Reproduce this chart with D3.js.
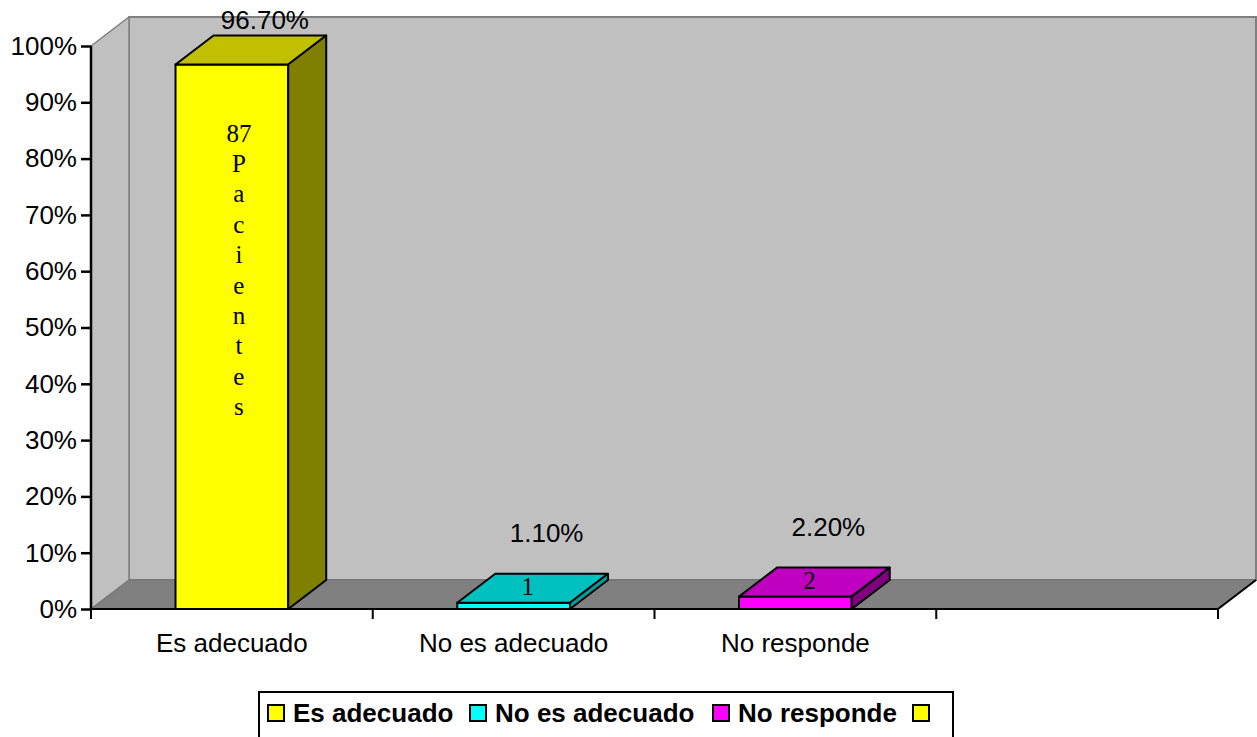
<!DOCTYPE html>
<html>
<head>
<meta charset="utf-8">
<script src="https://cdn.jsdelivr.net/npm/d3@7"></script>
<style>
  html, body { margin: 0; padding: 0; background: #ffffff; }
  svg { display: block; }
</style>
</head>
<body>
<svg id="chart" width="1257" height="737"></svg>
<script>
// Categories, shares and patient counts
const categories = ["Es adecuado", "No es adecuado", "No responde", ""];
const shares = [0.967, 0.011, 0.022, null];
const counts = ["87 Pacientes", "1", "2", null];
const legendLabels = ["Es adecuado", "No es adecuado", "No responde", ""];
const yTicks = [0, 0.1, 0.2, 0.3, 0.4, 0.5, 0.6, 0.7, 0.8, 0.9, 1.0];

// Face colours per series: front, top, side
const palette = [
  { front: "#ffff00", top: "#c0c000", side: "#808000" },
  { front: "#00ffff", top: "#00c0c0", side: "#00a0a0" },
  { front: "#ff00ff", top: "#c000c0", side: "#800080" },
  { front: "#ffff00", top: "#c0c000", side: "#808000" }
];

(function () {
const svg = d3.select("#chart");
const W = 1257, H = 737;
svg.append("rect").attr("width", W).attr("height", H).attr("fill", "#ffffff");

// Plot frame and 3D depth offset
const pLeft = 91, pRight = 1218, pTop = 46, pBottom = 609;
const dx = 38, dy = 29;

const x = d3.scaleBand().domain(categories).range([pLeft, pRight])
  .paddingInner(0.6).paddingOuter(0.3);
const y = d3.scaleLinear().domain([0, 1]).range([pBottom, pTop]);

const sans = "'Liberation Sans', Arial, sans-serif";
const serif = "'Liberation Serif', 'Times New Roman', serif";
const fs = 26;

// Back wall
svg.append("rect")
  .attr("x", pLeft + dx).attr("y", pTop - dy)
  .attr("width", pRight - pLeft).attr("height", pBottom - pTop)
  .attr("fill", "#c0c0c0").attr("stroke", "#808080").attr("stroke-width", 2);

// Side wall
svg.append("polygon")
  .attr("points", [[pLeft, pTop], [pLeft + dx, pTop - dy], [pLeft + dx, pBottom - dy], [pLeft, pBottom]].join(" "))
  .attr("fill", "#c0c0c0").attr("stroke", "#808080").attr("stroke-width", 1.5);

// Floor
svg.append("polygon")
  .attr("points", [[pLeft, pBottom], [pLeft + dx, pBottom - dy], [pRight + dx, pBottom - dy], [pRight, pBottom]].join(" "))
  .attr("fill", "#808080").attr("stroke", "#707070").attr("stroke-width", 1);

// Floor front edges
svg.append("polyline")
  .attr("points", [[pLeft, pBottom], [pRight, pBottom], [pRight + dx, pBottom - dy]].join(" "))
  .attr("fill", "none").attr("stroke", "#000").attr("stroke-width", 2);

// Bars
const barData = categories.map((c, i) => ({ c, v: shares[i], n: counts[i], col: palette[i] }))
  .filter(d => d.v != null);

const bw = x.bandwidth();
const bars = svg.append("g").selectAll("g").data(barData).join("g");

bars.append("rect")
  .attr("x", d => x(d.c)).attr("y", d => y(d.v))
  .attr("width", bw).attr("height", d => y(0) - y(d.v))
  .attr("fill", d => d.col.front).attr("stroke", "#000").attr("stroke-width", 2);

bars.append("polygon")
  .attr("points", d => {
    const x0 = x(d.c), t = y(d.v);
    return [[x0, t], [x0 + dx, t - dy], [x0 + bw + dx, t - dy], [x0 + bw, t]].join(" ");
  })
  .attr("fill", d => d.col.top).attr("stroke", "#000").attr("stroke-width", 2)
  .attr("stroke-linejoin", "round");

bars.append("polygon")
  .attr("points", d => {
    const x1 = x(d.c) + bw, t = y(d.v);
    return [[x1, t], [x1 + dx, t - dy], [x1 + dx, y(0) - dy], [x1, y(0)]].join(" ");
  })
  .attr("fill", d => d.col.side).attr("stroke", "#000").attr("stroke-width", 2)
  .attr("stroke-linejoin", "round");

// Percentage labels above bars
const pct = d3.format(".2%");
svg.append("g").selectAll("text").data(barData).join("text")
  .attr("x", d => x(d.c) + bw / 2 + 33)
  .attr("y", d => Math.max(y(d.v) - dy - 32, 29))
  .attr("text-anchor", "middle")
  .attr("font-family", sans).attr("font-size", fs).attr("fill", "#000")
  .text(d => pct(d.v));

// Count labels on bars
bars.each(function (d) {
  const g = d3.select(this);
  const words = d.n.split(" ");
  if (words.length > 1) {
    // tall bar: number then the word stacked letter by letter
    const lines = [words[0]].concat(words[1].split(""));
    const t = g.append("text")
      .attr("font-family", serif).attr("font-size", 25).attr("fill", "#000")
      .attr("text-anchor", "middle");
    lines.forEach((s, k) => {
      t.append("tspan")
        .attr("x", x(d.c) + bw / 2 + 7)
        .attr("y", y(d.v) + 77 + k * 30.4)
        .text(s);
    });
  } else {
    g.append("text")
      .attr("x", x(d.c) + bw / 2 + dx / 2 - 5)
      .attr("y", y(d.v) - dy / 2 + 7)
      .attr("text-anchor", "middle")
      .attr("font-family", serif).attr("font-size", 25).attr("fill", "#000")
      .text(d.n);
  }
});

// Y axis
const yAxis = svg.append("g").attr("transform", `translate(${pLeft},0)`)
  .call(d3.axisLeft(y).tickValues(yTicks).tickFormat(d3.format(".0%")).tickSize(10).tickPadding(4));
yAxis.select(".domain").attr("stroke", "#000").attr("stroke-width", 2.5)
  .attr("d", `M0,${pTop}V${pBottom}`);
yAxis.selectAll(".tick line").attr("stroke", "#000").attr("stroke-width", 2.5);
yAxis.selectAll(".tick text").attr("font-family", sans).attr("font-size", fs).attr("fill", "#000");

// X axis ticks at category boundaries and labels
const step = x.step();
const boundaries = d3.range(categories.length + 1).map(i => pLeft + i * step);
svg.append("g").selectAll("line").data(boundaries).join("line")
  .attr("x1", d => d).attr("x2", d => d)
  .attr("y1", pBottom).attr("y2", pBottom + 10)
  .attr("stroke", "#000").attr("stroke-width", 2);

svg.append("g").selectAll("text").data(categories).join("text")
  .attr("x", d => x(d) + bw / 2)
  .attr("y", 652)
  .attr("text-anchor", "middle")
  .attr("font-family", sans).attr("font-size", fs).attr("fill", "#000")
  .text(d => d);

// Legend
const legend = svg.append("g");
legend.append("rect")
  .attr("x", 259).attr("y", 692).attr("width", 694).attr("height", 60)
  .attr("fill", "#fff").attr("stroke", "#000").attr("stroke-width", 2);

const legendX = [268, 470, 713, 913];
const items = legend.selectAll("g.item").data(legendLabels).join("g").attr("class", "item");
items.append("rect")
  .attr("x", (d, i) => legendX[i]).attr("y", 705)
  .attr("width", 16).attr("height", 16)
  .attr("fill", (d, i) => palette[i].front).attr("stroke", "#000").attr("stroke-width", 2);
items.append("text")
  .attr("x", (d, i) => legendX[i] + 25).attr("y", 722)
  .attr("font-family", sans).attr("font-weight", "bold").attr("font-size", fs).attr("fill", "#000")
  .text(d => d);
})();
</script>
</body>
</html>
